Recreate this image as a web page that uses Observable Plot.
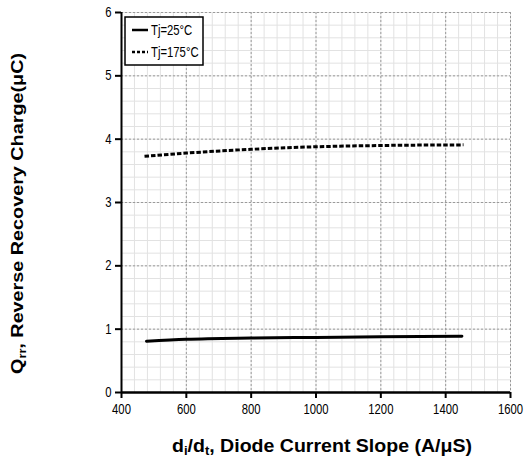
<!DOCTYPE html>
<html>
<head>
<meta charset="utf-8">
<script src="https://cdn.jsdelivr.net/npm/d3@7"></script>
<script src="https://cdn.jsdelivr.net/npm/@observablehq/plot@0.6"></script>
<style>
  body { margin: 0; background: #fff; }
  #chart { position: relative; width: 525px; height: 464px; }
</style>
</head>
<body>
<div id="chart"></div>
<script>
// Data
const di_dt_25 = [477, 600, 800, 1000, 1200, 1450];
const qrr_25   = [0.81, 0.84, 0.86, 0.87, 0.88, 0.89];
const di_dt_175 = [471, 600, 800, 1000, 1200, 1455];
const qrr_175   = [3.73, 3.78, 3.84, 3.88, 3.90, 3.91];
const seriesNames = ["Tj=25°C", "Tj=175°C"];
const xTicks = [400, 600, 800, 1000, 1200, 1400, 1600];
const yTicks = [0, 1, 2, 3, 4, 5, 6];
const xMinor = d3.range(400, 1601, 40);
const yMinor = d3.range(0, 6.01, 0.2);

const rows25 = di_dt_25.map((x, i) => ({x, y: qrr_25[i]}));
const rows175 = di_dt_175.map((x, i) => ({x, y: qrr_175[i]}));

const sans = "'Liberation Sans', Arial, sans-serif";
const NARROW = 0.78;

const plot = Plot.plot({
  width: 525,
  height: 464,
  marginLeft: 121,
  marginRight: 15,
  marginTop: 12,
  marginBottom: 72,
  style: { fontFamily: sans, fontSize: "14.5px", background: "#fff", color: "#000" },
  x: { domain: [400, 1600] },
  y: { domain: [0, 6] },
  marks: [
    Plot.ruleX(xMinor, { stroke: "#e2e2e2", strokeWidth: 1 }),
    Plot.ruleY(yMinor, { stroke: "#e2e2e2", strokeWidth: 1 }),
    Plot.ruleX(xTicks, { stroke: "#9a9a9a", strokeWidth: 1, strokeDasharray: "2,2" }),
    Plot.ruleY(yTicks, { stroke: "#9a9a9a", strokeWidth: 1, strokeDasharray: "2,2" }),
    Plot.axisX({ ticks: xTicks, tickFormat: "d", tickSize: 6, tickPadding: 5, stroke: "#000", strokeWidth: 2, label: null, fontSize: 14.5 }),
    Plot.axisY({ ticks: yTicks, tickFormat: "d", tickSize: 6, tickPadding: 4, stroke: "#000", strokeWidth: 2, label: null, fontSize: 14.5 }),
    Plot.ruleX([400], { stroke: "#000", strokeWidth: 2 }),
    Plot.ruleY([0], { stroke: "#000", strokeWidth: 2.5 }),
    Plot.line(rows25, { x: "x", y: "y", stroke: "#000", strokeWidth: 3, curve: "monotone-x" }),
    Plot.line(rows175, { x: "x", y: "y", stroke: "#000", strokeWidth: 3, strokeDasharray: "4.5,2", strokeLinecap: "butt", curve: "monotone-x" })
  ]
});

document.getElementById("chart").appendChild(plot);

const svg = d3.select(plot);

// Narrow the tick labels (reference uses a condensed face)
svg.selectAll("g[aria-label='x-axis tick label'] text, g[aria-label='y-axis tick label'] text").each(function () {
  const el = d3.select(this);
  const t = el.attr("transform");
  if (t) {
    el.attr("transform", t + ` scale(${NARROW},1)`);
  } else {
    const x = +el.attr("x") || 0, y = +el.attr("y") || 0;
    el.attr("x", null).attr("y", null).attr("transform", `translate(${x},${y}) scale(${NARROW},1)`);
  }
});

// X axis title with subscripts
const xt = svg.append("text")
  .attr("x", 322).attr("y", 452)
  .attr("text-anchor", "middle")
  .attr("textLength", 300).attr("lengthAdjust", "spacingAndGlyphs")
  .attr("font-family", sans).attr("font-weight", "bold").attr("font-size", 18).attr("fill", "#000");
xt.append("tspan").text("d");
xt.append("tspan").attr("font-size", 12).attr("dy", 3).text("i");
xt.append("tspan").attr("dy", -3).text("/d");
xt.append("tspan").attr("font-size", 12).attr("dy", 3).text("t");
xt.append("tspan").attr("dy", -3).text(", Diode Current Slope (A/μS)");

// Y axis title with subscript
const yt = svg.append("text")
  .attr("transform", "translate(23,213.5) rotate(-90)")
  .attr("text-anchor", "middle")
  .attr("textLength", 321).attr("lengthAdjust", "spacingAndGlyphs")
  .attr("font-family", sans).attr("font-weight", "bold").attr("font-size", 17).attr("fill", "#000");
yt.append("tspan").text("Q");
yt.append("tspan").attr("font-size", 11).attr("dy", 3).text("rr");
yt.append("tspan").attr("dy", -3).text(", Reverse Recovery Charge(μC)");

// Legend
const lg = svg.append("g").attr("transform", "translate(125,17)");
lg.append("rect").attr("width", 78).attr("height", 48).attr("fill", "#fff").attr("stroke", "#000").attr("stroke-width", 1.5);
const dashes = [null, "3,2"];
seriesNames.forEach((name, i) => {
  const y = 13 + i * 22;
  lg.append("line").attr("x1", 7).attr("x2", 23).attr("y1", y).attr("y2", y)
    .attr("stroke", "#000").attr("stroke-width", 2.5).attr("stroke-dasharray", dashes[i]);
  lg.append("text").attr("text-anchor", "start")
    .attr("transform", `translate(26,${y + 5}) scale(${NARROW},1)`)
    .attr("font-family", sans).attr("font-size", 14.5).attr("fill", "#000").text(name);
});
</script>
</body>
</html>
